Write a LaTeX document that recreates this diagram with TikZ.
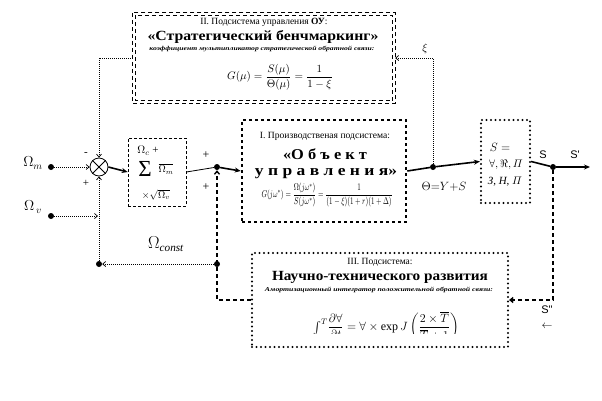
\documentclass[tikz,border=0pt]{standalone}
\usepackage{fontspec}
\setmainfont{Liberation Serif}
\newfontfamily\lsans{Liberation Sans}
\usepackage{amsmath,amssymb,graphicx}
\usetikzlibrary{arrows.meta}
\newcommand{\myfs}[1]{\fontsize{#1}{#1}\selectfont}
\newcommand{\fitw}[2]{\resizebox{#1}{\height}{#2}}
\tikzset{
  topline/.style={draw, line width=0.8pt, dash pattern=on 4pt off 3pt},
  sqbox/.style={draw, line width=2.6pt, dash pattern=on 2.6pt off 3.4pt, inner sep=0},
  dotbox/.style={draw, line width=2.2pt, line cap=round, dash pattern=on 0pt off 4.5pt, inner sep=0},
  sumbox/.style={draw, line width=0.6pt, dash pattern=on 3pt off 2pt, inner sep=0},
  dot/.style={circle, fill, inner sep=0, minimum size=6pt},
  fb/.style={line width=0.7pt, dash pattern=on 1pt off 1pt},
  dsh/.style={line width=1.4pt, dash pattern=on 4pt off 3pt},
  thk/.style={line width=1.6pt},
  open/.style={-{Straight Barb[length=3pt,width=5pt]}},
  solidarr/.style={-{Stealth[length=6pt,width=5pt]}},
  lbl/.style={inner sep=0},
}
\begin{document}
\begin{tikzpicture}[x=1pt,y=-1pt]
\useasboundingbox (0,0) rectangle (602,400);

% ---- top box (double dashed border)
\node[inner sep=0, minimum width=262pt, minimum height=90pt] (top) at (264,58) {};
\draw[topline] (top.north west) rectangle (top.south east);
\draw[topline] ([shift={(2.5,2.5)}]top.north west) rectangle ([shift={(-2.5,-2.5)}]top.south east);
\node[lbl] (t1) at (264,22) {\myfs{9.5}II. Подсистема управления \textbf{ОУ}:};
\node[lbl] (t2) at (263,37) {\fitw{231pt}{\myfs{14}\bfseries «Стратегический бенчмаркинг»}};
\node[lbl] (t3) at (262,49) {\fitw{225pt}{\myfs{6}\bfseries\itshape коэффициент мультипликатор стратегической обратной связи:}};
\node[lbl] (t4) at (280,77) {\myfs{10.5}$G(\mu)=\dfrac{S(\mu)}{\Theta(\mu)}=\dfrac{1}{1-\xi}$};

% ---- main box
\node[sqbox, minimum width=164pt, minimum height=102pt] (obj) at (324,171) {};
\node[lbl] (m1) at (325,136) {\fitw{130pt}{\myfs{9.5}I. Производственая подсистема:}};
\node[lbl] (m2) at (325,154) {\fitw{84pt}{\myfs{15}\bfseries «О б ъ е к т}};
\node[lbl] (m3) at (326,174) {\fitw{142pt}{\myfs{15}\bfseries у п р а в л е н и я»}};
\node[lbl] (m4) at (327,195) {\fitw{131pt}{\myfs{10}$G(j\omega^*)=\dfrac{\Omega(j\omega^*)}{S(j\omega^*)}=\dfrac{1}{(1-\xi)(1+r)(1+\Delta)}$}};

% ---- sum box
\node[sumbox, minimum width=58pt, minimum height=68pt] (sig) at (157,172) {};
\node[lbl] (s1) at (148,151) {\myfs{11}$\Omega_c$ +};
\node[lbl] (s2) at (145,169) {\myfs{23}Σ};
\node[lbl] (s3) at (166,169) {\myfs{10}$\overline{\Omega_m}$};
\node[lbl] (s4) at (156,195) {\myfs{10}$\times\sqrt{\Omega_v}$};

% ---- S box
\node[dotbox, minimum width=49pt, minimum height=83pt] (sb) at (505.5,161.5) {};
\node[lbl] (q1) at (500,147) {\myfs{12}$S=$};
\node[lbl] (q2) at (506,165) {\myfs{11}$\forall,\Re,\varPi$};
\node[lbl] (q3) at (505,182) {\myfs{11}{\itshape З}, {\itshape Н}, $\varPi$};

% ---- bottom box
\node[dotbox, minimum width=256pt, minimum height=94pt] (bot) at (380,300) {};
\node[lbl] (b1) at (380,262) {\myfs{9.5}III. Подсистема:};
\node[lbl] (b2) at (380,277) {\fitw{216pt}{\myfs{14}\bfseries Научно-технического развития}};
\node[lbl] (b3) at (379,290) {\fitw{228pt}{\myfs{6}\bfseries\itshape Амортизационный интегратор положительной обратной связи:}};
\begin{scope}
\path[clip] (252,253) rectangle (508,333);
\node[lbl] (b4) at (386,327) {\myfs{12}$\int^{T}\!\dfrac{\partial\forall}{\partial t}=\forall\times\exp J\left(\dfrac{2\times\overline{T}}{\overline{T}+1}\right)$};
\end{scope}

% ---- summing junction
\node[circle, draw, line width=0.8pt, minimum size=18pt, inner sep=0] (sum) at (99,167) {};
\draw[line width=0.8pt] (sum.north west) -- (sum.south east) (sum.north east) -- (sum.south west);

% ---- dots and coordinates
\node[dot] (dm) at (51,167) {};
\node[dot] (dv) at (51,216) {};
\node[dot] (dc) at (99,264) {};
\node[dot] (d2) at (217,264) {};
\node[dot] (dj) at (217,167) {};
\node[dot] (d3) at (433,167) {};
\node[dot] (d4) at (553,167) {};
\coordinate (vj) at (98,216);
\coordinate (send) at (590,167);

% ---- labels
\node[lbl] (lm) at (33,163) {\myfs{14}$\Omega_{m}$};
\node[lbl] (lv) at (33,207) {\myfs{14}$\Omega_{\,v}$};
\node[lbl] (lminus) at (86,154) {\myfs{11}-};
\node[lbl] (lplus) at (86,183) {\myfs{11}+};
\node[lbl] (lc) at (166,244) {\myfs{16}$\Omega_{\mathit{const}}$};
\node[lbl] (lp1) at (206,155) {\myfs{12}+};
\node[lbl] (lp2) at (206,187) {\myfs{12}+};
\node[lbl] (lxi) at (425,49) {\myfs{11}$\xi$};
\node[lbl] (lth) at (444,187) {\myfs{13}$\Theta{=}Y{+}S$};
\node[lbl] (ls) at (543,155) {\myfs{11}\lsans S};
\node[lbl] (ls1) at (575,155) {\myfs{11}\lsans S'};
\node[lbl] (ls2) at (547,310) {\myfs{11}\lsans S"};
\node[lbl] (larr) at (547,326) {\myfs{11}$\leftarrow$};

% ---- connectors
\draw[fb, open] (top.west) -| (sum.north);
\draw[fb, open] (d3) |- (top.east);
\draw[fb, open] (dm) -- (sum.west);
\draw[fb, open] (dv) -- (vj);
\draw[fb, open] (dc) -- (sum.south);
\draw[fb, open] (d2) -- (dc);
\draw[thk, solidarr] (sum.east) -- (sig.west);
\draw[line width=0.8pt] (sig.east) -- (dj);
\draw[thk, solidarr] (dj) -- (obj.west);
\draw[dsh, open] (bot.west) -| (dj.south);
\draw[thk, solidarr] (obj.east) -- (d3) -- (sb.west);
\draw[thk] (sb.east) -- (d4);
\draw[thk, solidarr] (d4) -- (send);
\draw[dsh, open] (d4) |- (bot.east);
\end{tikzpicture}
\end{document}
